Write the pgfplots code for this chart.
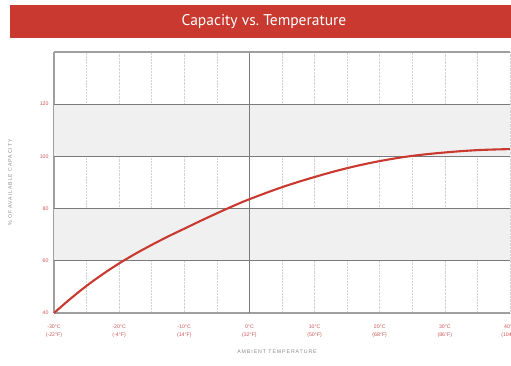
\documentclass[border=0pt]{standalone}
\usepackage{fontspec}
\setmainfont{Liberation Sans}
\newfontfamily\titlefont{PT Sans}
\usepackage{pgfplots}
\pgfplotsset{compat=1.18}
\definecolor{barred}{HTML}{C9392F}
\definecolor{ticked}{HTML}{CC5555}
\definecolor{gridd}{HTML}{7A7A7A}
\definecolor{band}{HTML}{F0F0F0}
\definecolor{labgray}{HTML}{8A8A8A}
\begin{document}
\begin{tikzpicture}[x=1pt,y=1pt]
\fill[barred] (10,328) rectangle (530,361);
\node[white, font=\titlefont\fontsize{15.5}{18}\selectfont] at (264,344.5) {Capacity vs.\ Temperature};
\begin{axis}[
  at={(54pt,53pt)}, anchor=south west, scale only axis,
  width=456pt, height=261pt,
  xmin=-30, xmax=40, ymin=40, ymax=140,
  xtick={-30,-20,...,40},
  xticklabels={{-30°C\\(-22°F)},{-20°C\\(-4°F)},{-10°C\\(14°F)},{0°C\\(32°F)},{10°C\\(50°F)},{20°C\\(68°F)},{30°C\\(86°F)},{40°C\\(104°F)}},
  minor xtick={-25,-15,...,35},
  ytick={40,60,80,100,120},
  /pgf/number format/assume math mode=true,
  major tick length=0pt, minor tick length=0pt,
  xticklabel style={align=center, font=\fontsize{5.2}{8.5}\selectfont, text=ticked, yshift=-8pt},
  yticklabel style={font=\fontsize{5.2}{6}\selectfont, text=ticked, xshift=-2pt},
  xmajorgrids, xminorgrids, ymajorgrids,
  x grid style={gray!35, densely dotted, line width=0.5pt},
  minor x grid style={gray!35, densely dotted, line width=0.5pt},
  y grid style={gridd, line width=1.1pt},
  axis line style={gray!75, line width=1.3pt},
  axis x line*=bottom, axis y line*=left,
  xlabel={\addfontfeature{LetterSpace=18}AMBIENT TEMPERATURE},
  ylabel={\addfontfeature{LetterSpace=18}\% OF AVAILABLE CAPACITY},
  xlabel style={font=\fontsize{5.2}{6}\selectfont, text=labgray, at={(axis description cs:0.5,0)}, anchor=center, yshift=-39pt, xshift=-5pt},
  ylabel style={font=\fontsize{5.2}{6}\selectfont, text=labgray, at={(axis description cs:0,0.5)}, anchor=center, yshift=44pt},
  clip=false,
]
\fill[band] (axis cs:-30,60) rectangle (axis cs:40,80);
\fill[band] (axis cs:-30,100) rectangle (axis cs:40,120);
\draw[gridd, line width=1.1pt] (axis cs:-30,60) -- (axis cs:40,60);
\draw[gridd, line width=1.1pt] (axis cs:-30,80) -- (axis cs:40,80);
\draw[gridd, line width=1.1pt] (axis cs:-30,100) -- (axis cs:40,100);
\draw[gridd, line width=1.1pt] (axis cs:-30,120) -- (axis cs:40,120);
\draw[gridd, line width=1.1pt] (axis cs:0,40) -- (axis cs:0,140);
\draw[gray!75, line width=1.3pt] (axis cs:-30,140) -- (axis cs:40,140);
\addplot[barred, line width=2.1pt, smooth, tension=0.6, mark=none] coordinates {
(-30,40) (-27.5,45.4) (-25,50.4) (-22.5,54.9) (-20,59) (-17.5,62.7) (-15,66.1) (-12.5,69.3) (-10,72.3) (-7.5,75.3) (-5,78.2) (-2.5,81) (0,83.6) (5,88.2) (10,92.1) (15,95.5) (20,98.2) (25,100.2) (30,101.5) (35,102.4) (40,102.8)
};
\end{axis}
\pgfresetboundingbox
\path[use as bounding box] (0,0) rectangle (511,366);
\end{tikzpicture}
\end{document}
